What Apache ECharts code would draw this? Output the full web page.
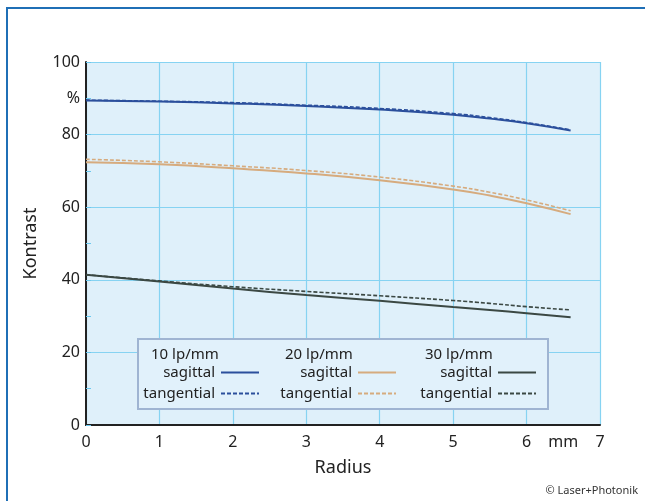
<!DOCTYPE html>
<html><head><meta charset="utf-8">
<script src="https://cdn.jsdelivr.net/npm/echarts@6/dist/echarts.min.js"></script>
<style>html,body{margin:0;padding:0;background:#fff}#c{width:645px;height:501px}</style>
</head><body><div id="c"></div>
<script>
var radius = [0, 1, 2, 3, 4, 5, 5.5, 6, 6.6];
var s10 = [89.4, 89.1, 88.6, 87.9, 86.9, 85.5, 84.4, 83.1, 81.1];
var t10 = [89.5, 89.2, 88.8, 88.1, 87.2, 85.8, 84.7, 83.3, 81.3];
var s20 = [72.4, 71.8, 70.7, 69.3, 67.4, 64.9, 63.2, 61.1, 58.1];
var t20 = [73.2, 72.5, 71.4, 70.1, 68.3, 65.8, 64.1, 62.0, 59.0];
var s30 = [41.4, 39.5, 37.6, 35.8, 34.2, 32.5, 31.7, 30.8, 29.7];
var t30 = [41.4, 39.7, 38.1, 36.8, 35.6, 34.3, 33.5, 32.6, 31.7];
var groups = ['10 lp/mm', '20 lp/mm', '30 lp/mm'];
var kinds = ['sagittal', 'tangential'];
var colors = ['#2b4f9c', '#d6ab7e', '#3b4843'];

var FONT = 'Noto Sans';
function pairs(v){ return radius.map(function(r,i){ return [r, v[i]]; }); }
var all = [[s10,t10],[s20,t20],[s30,t30]];
var series = [];
all.forEach(function(g, gi){
  g.forEach(function(v, ki){
    series.push({
      type:'line', name: groups[gi].split(' ')[0] + ' ' + kinds[ki],
      data: pairs(v), smooth: true, symbol:'none', showSymbol:false,
      xAxisIndex:0, yAxisIndex:0,
      lineStyle:{color:colors[gi], width: ki===0?2:1.6, type: ki===0?'solid':[4,2]},
      itemStyle:{color:colors[gi], opacity:0}, z: ki===0?3:4
    });
  });
});
var legendRight = [385, 248, 108];
var legends = groups.map(function(g, gi){
  var pre = g.split(' ')[0];
  return {
    orient:'vertical', align:'right', right: legendRight[gi], top: 365, itemGap: 6, padding:0,
    itemWidth: 38, itemHeight: 14, selectedMode:false, z: 20,
    itemStyle:{opacity:0},
    data: [pre+' sagittal', pre+' tangential'],
    formatter: function(n){ return n.split(' ')[1]; },
    textStyle:{fontFamily:FONT, fontSize:15, color:'#222', padding:[0,1,0,0]}
  };
});
var headerX = [151, 285, 425];
var graphics = [
  {type:'rect', shape:{x:7, y:8, width:700, height:600}, style:{fill:'none', stroke:'#1f6fb6', lineWidth:2}, z:0},
  {type:'rect', shape:{x:138, y:339, width:410, height:70}, style:{fill:'#e1f1fb', stroke:'#9fb4d2', lineWidth:2}, z:5},
  {type:'text', right:7, top:485, style:{text:'© Laser+Photonik', font:'11px "'+FONT+'"', fill:'#333'}, z:10}
];
groups.forEach(function(g, gi){
  graphics.push({type:'text', left:headerX[gi], top:347, style:{text:g, font:'15px "'+FONT+'"', fill:'#222'}, z:11});
});

var chart = echarts.init(document.getElementById('c'));
chart.setOption({
  animation:false,
  backgroundColor:'#fff',
  grid:{left:86, right:45, top:62, bottom:76, show:true, backgroundColor:'#dff0fa', borderWidth:0},
  xAxis:[
    {type:'value', min:0, max:7, interval:1, name:'Radius', nameLocation:'middle', nameGap:34,
     nameTextStyle:{fontFamily:FONT, fontSize:18, color:'#222'},
     axisLine:{show:true, onZero:false, lineStyle:{color:'#222', width:2}},
     axisTick:{show:false},
     axisLabel:{show:false},
     splitLine:{show:true, lineStyle:{color:'#86d3f2', width:1.2}}},
    {type:'value', min:0, max:7, interval:0.5, position:'bottom',
     axisLine:{show:false}, axisTick:{show:false}, splitLine:{show:false},
     axisLabel:{fontFamily:FONT, fontSize:16, color:'#222', margin:9,
       formatter:function(v){ if (v===6.5) return 'mm'; return (v%1===0)?String(v):''; }}}
  ],
  yAxis:[
    {type:'value', min:0, max:100, interval:20, name:'Kontrast', nameLocation:'middle', nameGap:46,
     nameTextStyle:{fontFamily:FONT, fontSize:18, color:'#222'},
     axisLine:{show:true, onZero:false, lineStyle:{color:'#222', width:2}},
     axisTick:{show:false}, axisLabel:{show:false},
     splitLine:{show:true, lineStyle:{color:'#86d3f2', width:1.2}}},
    {type:'value', min:0, max:100, interval:10, position:'left',
     axisLine:{show:false}, splitLine:{show:false},
     axisTick:{show:true, inside:true, length:5, lineStyle:{color:'#6cc8ee', width:1}},
     axisLabel:{fontFamily:FONT, fontSize:16, color:'#222', margin:6,
       formatter:function(v){ if (v===90) return '%'; return (v%20===0)?String(v):''; }}}
  ],
  legend: legends,
  series: series,
  graphic: graphics
});
</script></body></html>
